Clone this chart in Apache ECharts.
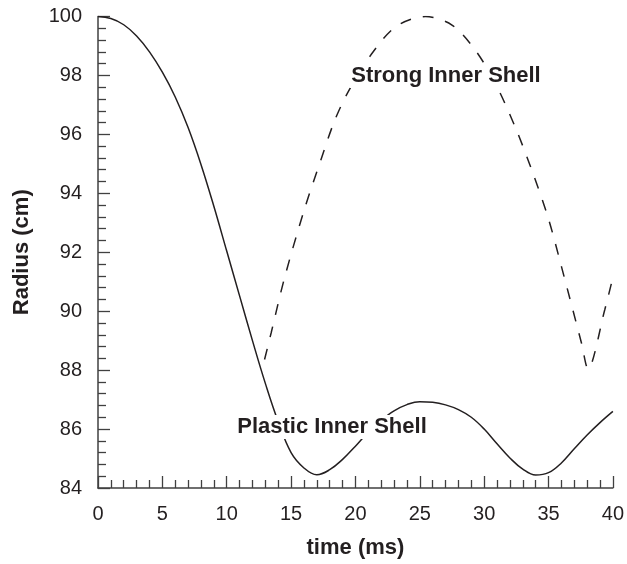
<!DOCTYPE html>
<html>
<head>
<meta charset="utf-8">
<script src="https://cdn.jsdelivr.net/npm/echarts@6/dist/echarts.min.js"></script>
<style>
  html, body { margin: 0; padding: 0; background: #fff; }
  #chart { width: 627px; height: 564px; }
</style>
</head>
<body>
<div id="chart"></div>
<script>
// plastic inner shell (solid line)
const plasticTime   = [0, 1, 2, 3, 4, 5, 6, 7, 8, 9, 10, 11, 12, 13, 14, 15, 16, 17, 18, 19, 20, 21, 22, 23, 24, 25, 26, 27, 28, 29, 30, 31, 32, 33, 34, 35, 36, 37, 38, 39, 40];
const plasticRadius = [100, 99.93, 99.72, 99.34, 98.8, 98.11, 97.27, 96.23, 94.98, 93.56, 92.04, 90.52, 89.0, 87.55, 86.25, 85.2, 84.68, 84.45, 84.62, 84.97, 85.42, 85.9, 86.3, 86.62, 86.83, 86.93, 86.91, 86.82, 86.66, 86.4, 86.0, 85.5, 85.02, 84.64, 84.44, 84.52, 84.85, 85.33, 85.8, 86.22, 86.6];

// strong inner shell (dashed line)
const strongTime   = [12.94, 13.45, 14.49, 16.03, 17.32, 18.35, 19.38, 21.19, 23.12, 25.44, 27.5, 29.31, 30.86, 32.4, 33.69, 34.98, 36.0, 37.56, 38.07, 39.37, 40];
const strongRadius = [88.36, 89.26, 91.13, 93.45, 95.14, 96.43, 97.4, 98.69, 99.65, 100, 99.71, 98.86, 97.74, 96.26, 94.8, 93.16, 91.52, 88.92, 88.04, 90.05, 91.15];

const xTicks = [0, 5, 10, 15, 20, 25, 30, 35, 40];
const yTicks = [84, 86, 88, 90, 92, 94, 96, 98, 100];

const zip = (a, b) => a.map((v, i) => [v, b[i]]);

const font = '"Liberation Sans", Arial, Helvetica, sans-serif';
const ink = '#231f20';
const axisGray = '#404040';

const chart = echarts.init(document.getElementById('chart'));
chart.setOption({
  animation: false,
  textStyle: { fontFamily: font },
  grid: { left: 98, right: 12, top: 16.5, bottom: 76, containLabel: false },
  xAxis: {
    type: 'value',
    min: xTicks[0],
    max: xTicks[xTicks.length - 1],
    interval: 5,
    name: 'time (ms)',
    nameLocation: 'middle',
    nameGap: 49,
    nameTextStyle: { fontSize: 22, fontWeight: 'bold', color: ink, fontFamily: font },
    axisLine: { show: true, lineStyle: { color: axisGray, width: 1.5 } },
    axisTick: { show: true, inside: true, length: 12, lineStyle: { color: axisGray, width: 1.3 } },
    minorTick: { show: true, splitNumber: 5, length: 8, lineStyle: { color: axisGray, width: 1.3 } },
    axisLabel: { fontSize: 20, color: ink, margin: 16, fontFamily: font },
    splitLine: { show: false }
  },
  yAxis: {
    type: 'value',
    min: yTicks[0],
    max: yTicks[yTicks.length - 1],
    interval: 2,
    name: 'Radius (cm)',
    nameLocation: 'middle',
    nameGap: 65,
    nameTextStyle: { fontSize: 22, fontWeight: 'bold', color: ink, fontFamily: font },
    axisLine: { show: true, lineStyle: { color: axisGray, width: 1.5 } },
    axisTick: { show: true, inside: true, length: 12, lineStyle: { color: axisGray, width: 1.3 } },
    minorTick: { show: true, splitNumber: 5, length: 8, lineStyle: { color: axisGray, width: 1.3 } },
    axisLabel: { fontSize: 20, color: ink, margin: 16, fontFamily: font },
    splitLine: { show: false }
  },
  series: [
    {
      name: 'Plastic Inner Shell',
      type: 'line',
      data: zip(plasticTime, plasticRadius),
      smooth: 0.4,
      showSymbol: false,
      lineStyle: { color: ink, width: 1.5 }
    },
    {
      name: 'Strong Inner Shell',
      type: 'line',
      data: zip(strongTime, strongRadius),
      smooth: 0.3,
      showSymbol: false,
      lineStyle: { color: ink, width: 1.5, type: [11, 12] }
    }
  ],
  // labels sit on a white box, like the original, so they hide the curves behind them
  graphic: [
    {
      type: 'text',
      x: 446, y: 76,
      z: 100,
      style: { text: 'Strong Inner Shell', font: 'bold 22px ' + font, fill: ink, align: 'center', verticalAlign: 'middle', backgroundColor: '#fff', padding: [1, 2] }
    },
    {
      type: 'text',
      x: 332, y: 427,
      z: 100,
      style: { text: 'Plastic Inner Shell', font: 'bold 22px ' + font, fill: ink, align: 'center', verticalAlign: 'middle', backgroundColor: '#fff', padding: [1, 2] }
    }
  ]
});
</script>
</body>
</html>
